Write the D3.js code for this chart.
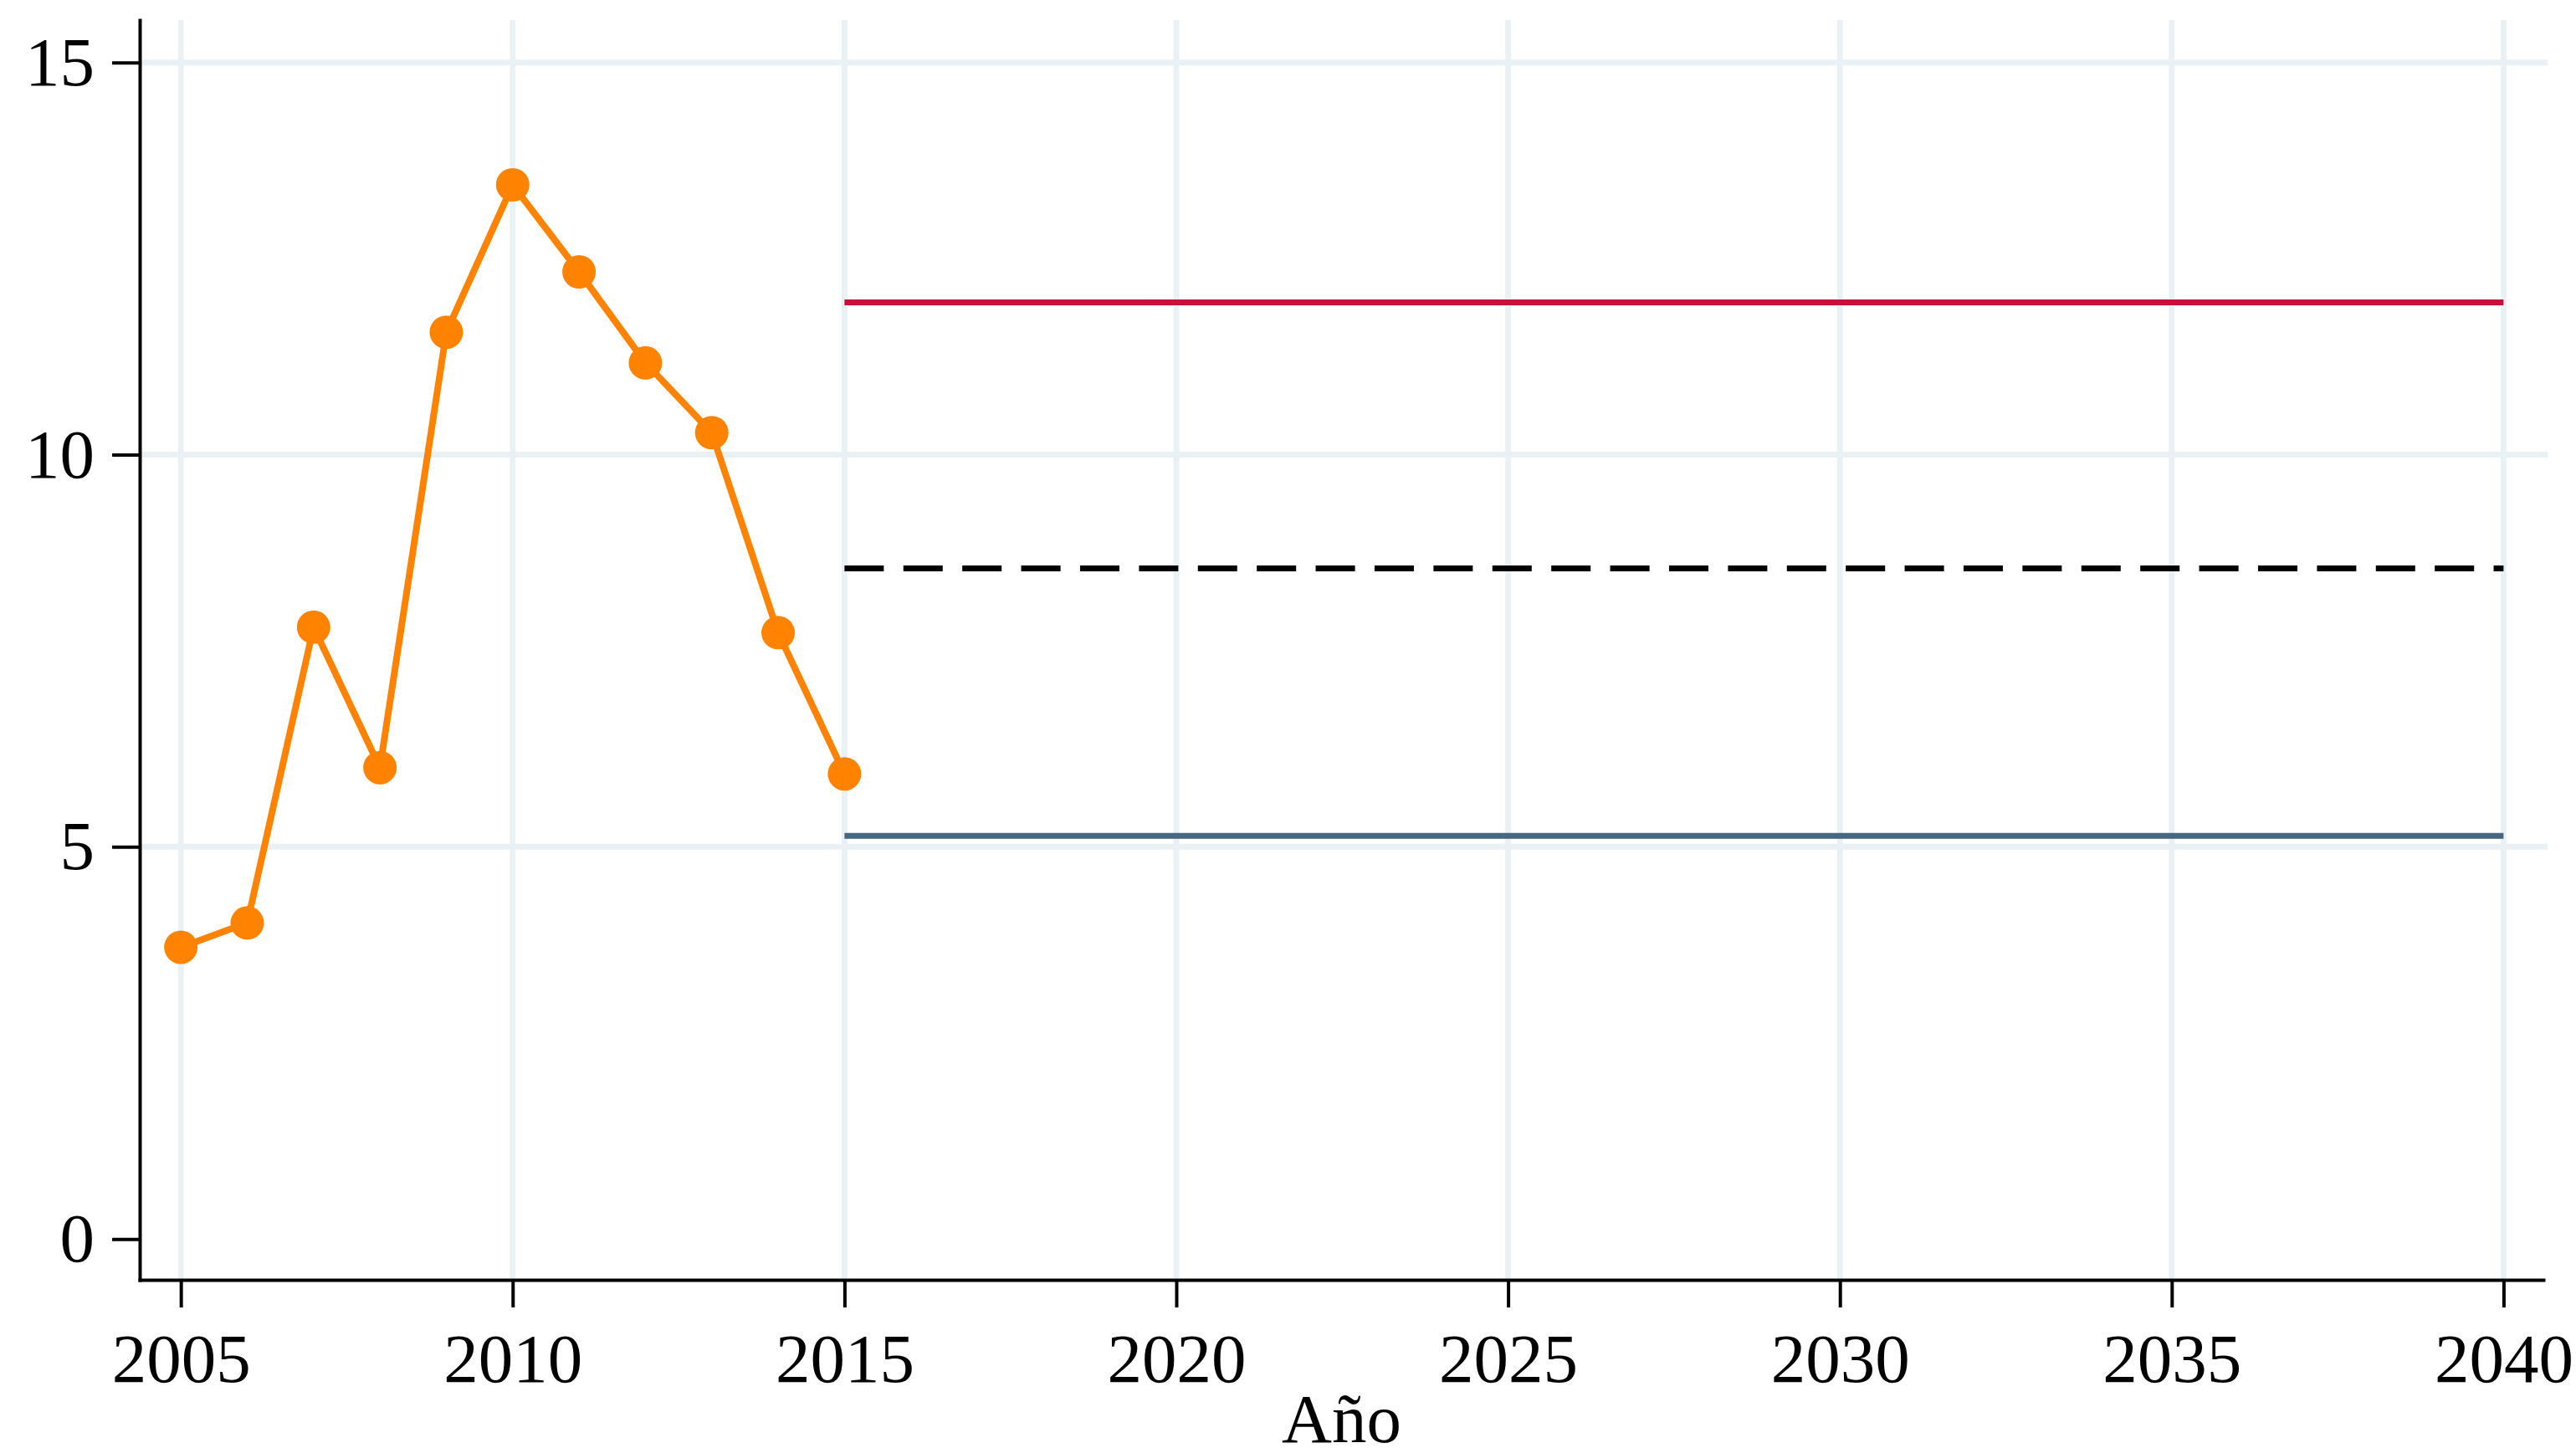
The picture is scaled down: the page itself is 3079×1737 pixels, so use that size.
<!DOCTYPE html>
<html>
<head>
  <meta charset="utf-8">
  <title>Año</title>
  <style>
  body { margin: 0; background: #fff; }

  .grid line {
    stroke: #eaf1f4;
    stroke-width: 7px;
  }

  .axis path, .axis line {
    stroke: #000;
    stroke-width: 4px;
  }

  .axis text, .xlabel {
    font-family: "Liberation Serif", "Times New Roman", serif;
    font-size: 83px;
    fill: #000;
  }

  </style>
</head>
<body>
<svg width="3079" height="1737"></svg>
<script src="https://d3js.org/d3.v7.min.js"></script>
<script>

// observed series
var years = [2005, 2006, 2007, 2008, 2009, 2010, 2011, 2012, 2013, 2014, 2015];
var values = [3.72, 4.03, 7.80, 6.01, 11.56, 13.44, 12.33, 11.17, 10.28, 7.73, 5.93];

// projections 2015-2040
var projYears = [2015, 2040];
var projHigh = [11.94, 11.94];
var projMid = [8.55, 8.55];
var projLow = [5.14, 5.14];

var xTicks = [2005, 2010, 2015, 2020, 2025, 2030, 2035, 2040];
var yTicks = [0, 5, 10, 15];
var yGrid = [5, 10, 15];

var svg = d3.select("svg");

var x = d3.scaleLinear().domain([2004.38, 2040.6]).range([167, 3040]);
var y = d3.scaleLinear().domain([-0.52, 15.54]).range([1530, 24]);

// grid
var grid = svg.append("g").attr("class", "grid");
grid.selectAll(".vg")
  .data(xTicks)
  .enter().append("line")
    .attr("x1", function(d) { return x(d); })
    .attr("x2", function(d) { return x(d); })
    .attr("y1", y.range()[1])
    .attr("y2", y.range()[0]);
grid.selectAll(".hg")
  .data(yGrid)
  .enter().append("line")
    .attr("x1", x.range()[0])
    .attr("x2", x.range()[1] + 5)
    .attr("y1", function(d) { return y(d); })
    .attr("y2", function(d) { return y(d); });

// projection lines
var line = d3.line()
    .x(function(d) { return x(d[0]); })
    .y(function(d) { return y(d[1]); });

function proj(vals, color, dash) {
  svg.append("path")
    .datum(d3.zip(projYears, vals))
    .attr("d", line)
    .attr("fill", "none")
    .attr("stroke", color)
    .attr("stroke-width", 7)
    .attr("stroke-dasharray", dash || null);
}
proj(projHigh, "#c8103a");
proj(projMid, "#000", "47 23.4");
proj(projLow, "#45677f");

// observed
var obs = d3.zip(years, values);
svg.append("path")
  .datum(obs)
  .attr("d", line)
  .attr("fill", "none")
  .attr("stroke", "#ff8300")
  .attr("stroke-width", 8);

svg.append("g")
  .selectAll("circle")
  .data(obs)
  .enter().append("circle")
    .attr("cx", function(d) { return x(d[0]); })
    .attr("cy", function(d) { return y(d[1]); })
    .attr("r", 20)
    .attr("fill", "#ff8300");

// axes
svg.append("g")
    .attr("class", "axis")
    .attr("transform", "translate(" + x.range()[0] + ",0)")
    .call(d3.axisLeft(y).tickValues(yTicks).tickSize(33).tickSizeOuter(0).tickPadding(21));

svg.append("g")
    .attr("class", "axis")
    .attr("transform", "translate(0," + y.range()[0] + ")")
    .call(d3.axisBottom(x).tickValues(xTicks).tickFormat(d3.format("d")).tickSize(33).tickSizeOuter(0).tickPadding(30));

svg.selectAll(".axis path").attr("stroke-linecap", "square");

svg.append("text")
    .attr("class", "xlabel")
    .attr("x", (x.range()[0] + x.range()[1]) / 2)
    .attr("y", 1724)
    .attr("text-anchor", "middle")
    .text("Año");

</script>
</body>
</html>
